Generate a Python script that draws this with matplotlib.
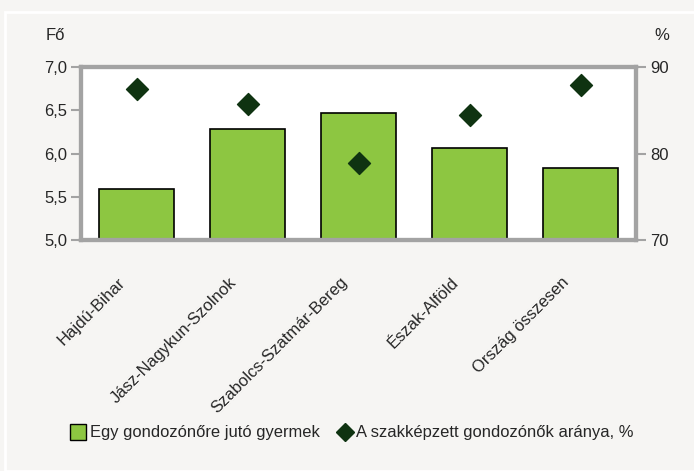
import matplotlib.pyplot as plt
from matplotlib.patches import Rectangle
from matplotlib.lines import Line2D
from matplotlib.transforms import ScaledTranslation
import numpy as np

# data
regions = ['Hajdú-Bihar', 'Jász-Nagykun-Szolnok', 'Szabolcs-Szatmár-Bereg',
           'Észak-Alföld', 'Ország összesen']
children_per_carer = [5.59, 6.28, 6.47, 6.06, 5.83]
qualified_share = [87.5, 85.7, 78.9, 84.5, 87.9]

left_ticks = [5.0, 5.5, 6.0, 6.5, 7.0]
right_ticks = [70, 80, 90]

plt.rcParams['font.family'] = ['Liberation Sans Narrow', 'DejaVu Sans Condensed', 'Liberation Sans']

bg = '#f6f5f3'
frame = '#a3a3a3'
green = '#8dc641'
dark = '#0f3311'
txt = '#262626'

fig = plt.figure(figsize=(6.94, 4.71), dpi=100, facecolor=bg)
fig.patches.append(Rectangle((5 / 694, 0), 1.0, 1 - 12 / 471, transform=fig.transFigure,
                             fill=False, edgecolor='white', linewidth=2))

ax = fig.add_axes([81 / 694, 1 - 240 / 471, 555 / 694, 173 / 471])
ax.set_facecolor('white')
x = np.arange(len(regions))
ax.bar(x, children_per_carer, width=0.67, bottom=0, color=green, edgecolor='black',
       linewidth=1.2, zorder=2)
ax.set_xlim(-0.5, len(regions) - 0.5)
ax.set_ylim(5.0, 7.0)
ax.set_yticks(left_ticks)
ax.set_yticklabels([f'{v:.1f}'.replace('.', ',') for v in left_ticks], fontsize=12)

ax2 = ax.twinx()
ax2.scatter(x, qualified_share, marker='D', s=125, color=dark, zorder=3)
ax2.set_ylim(70, 90)
ax2.set_yticks(right_ticks)
ax2.set_yticklabels([str(v) for v in right_ticks], fontsize=12)

for a in (ax, ax2):
    for s in a.spines.values():
        s.set_color(frame)
        s.set_linewidth(3)
    a.tick_params(axis='y', color=frame, width=1.5, length=7, direction='out', pad=3,
                  labelcolor=txt)

ax.set_xticks(x)
ax.set_xticklabels(regions, rotation=45, ha='right', rotation_mode='anchor', fontsize=12,
                   color=txt)
ax.tick_params(axis='x', length=0, pad=25)
shift = ScaledTranslation(-19 / 100, 0, fig.dpi_scale_trans)
for lab in ax.get_xticklabels():
    lab.set_transform(lab.get_transform() + shift)

fig.text(55 / 694, 1 - 35 / 471, 'Fő', fontsize=12, ha='center', va='center', color=txt)
fig.text(662 / 694, 1 - 35 / 471, '%', fontsize=12, ha='center', va='center', color=txt)

handles = [
    Line2D([], [], marker='s', linestyle='none', markersize=11, markerfacecolor=green,
           markeredgecolor='black', markeredgewidth=1),
    Line2D([], [], marker='D', linestyle='none', markersize=9, color=dark),
]
fig.legend(handles, ['Egy gondozónőre jutó gyermek', 'A szakképzett gondozónők aránya, %'],
           loc='center', bbox_to_anchor=(352 / 694, 1 - 433 / 471), ncol=2, frameon=False,
           fontsize=11.9, handletextpad=0.2, columnspacing=1.0, handlelength=1,
           labelcolor=txt)

fig.savefig('out.png', dpi=100, facecolor=bg)
